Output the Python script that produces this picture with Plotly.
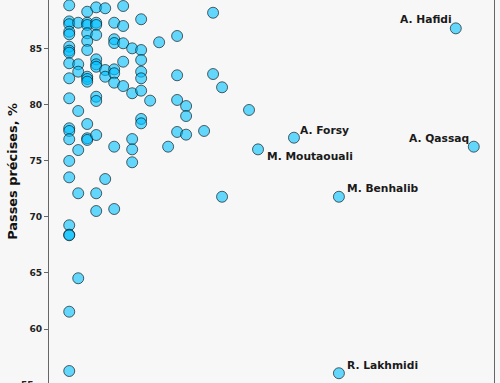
import plotly.graph_objects as go

# x: discrete metric (column index), y: pass accuracy %
x_vals = (
    [0]*21 + [1]*7 + [2]*12 + [3]*12 + [4]*4 + [5]*8 + [6]*5 + [7]*5 + [8]*8
    + [9, 10, 11] + [12]*4 + [13]*3 + [15] + [16]*2 + [17]*2 + [20]
)
y_vals = (
    [88.83, 87.40, 87.15, 86.48, 86.25, 85.15, 84.79, 84.61, 83.67, 82.33, 80.55,
     77.88, 77.64, 76.90, 74.97, 73.51, 69.24, 68.40, 68.35, 61.54, 56.26]
    + [87.28, 83.58, 82.92, 79.42, 75.94, 72.09, 64.52]
    + [88.26, 87.28, 87.08, 86.34, 85.65, 84.85, 82.47, 82.27, 82.03, 78.26, 76.99, 76.84]
    + [88.65, 87.28, 87.08, 86.19, 84.02, 83.58, 83.36, 80.69, 80.31, 77.28, 72.09, 70.51]
    + [88.57, 83.07, 82.47, 73.36]
    + [87.28, 85.81, 85.47, 83.13, 82.78, 81.94, 76.24, 70.69]
    + [88.77, 86.99, 85.45, 83.81, 81.64]
    + [85.00, 81.00, 76.92, 76.00, 74.85]
    + [87.59, 84.85, 83.96, 82.92, 82.33, 81.23, 78.71, 78.32]
    + [80.34, 85.54, 76.24]
    + [86.10, 82.60, 80.40, 77.55]
    + [79.86, 78.97, 77.31]
    + [77.64]
    + [88.17, 82.71]
    + [81.53, 71.78]
    + [79.51]
)

named_players = ["M. Moutaouali", "A. Forsy", "M. Benhalib", "R. Lakhmidi", "A. Hafidi", "A. Qassaq"]
named_x = [21, 25, 30, 30, 43, 45]
named_y = [76.00, 77.04, 71.78, 56.06, 86.78, 76.24]

y_ticks = [55, 60, 65, 70, 75, 80, 85]
y_title = "Passes précises, %"

BG = "#f7f7f7"
FONT = "DejaVu Sans"
Y_RANGE = [55.19, 89.305]

fig = go.Figure()
fig.add_trace(go.Scatter(
    x=x_vals + named_x, y=y_vals + named_y, mode="markers",
    marker=dict(size=11, color="rgba(0,191,255,0.6)",
                line=dict(color="rgba(0,0,0,0.6)", width=1)),
    hoverinfo="skip", showlegend=False, cliponaxis=False,
))

# label placement (pixel offsets from point, anchor)
label_style = {
    "M. Moutaouali": dict(xanchor="left", xshift=7, yshift=-7),
    "A. Forsy": dict(xanchor="left", xshift=4, yshift=7),
    "M. Benhalib": dict(xanchor="left", xshift=6, yshift=8.5),
    "R. Lakhmidi": dict(xanchor="left", xshift=6, yshift=7.5),
    "A. Hafidi": dict(xanchor="right", xshift=-2, yshift=8.5),
    "A. Qassaq": dict(xanchor="right", xshift=-3, yshift=8),
}
for name, xv, yv in zip(named_players, named_x, named_y):
    st = label_style[name]
    fig.add_annotation(
        x=xv, y=yv, xref="x", yref="y", text=name, showarrow=False,
        xanchor=st["xanchor"], yanchor="middle", xshift=st["xshift"], yshift=st["yshift"],
        font=dict(family=FONT, size=10.7, color="#1a1a1a", weight="bold"),
    )

# y-axis title
fig.add_annotation(
    x=(12 - 48.75) / 445.5, y=0.5522, xref="paper", yref="paper", text=y_title,
    showarrow=False, textangle=-90, xanchor="center", yanchor="middle",
    font=dict(family=FONT, size=12.9, color="#111", weight="bold"),
)

# partially visible bottom tick label (tick 55 lies just below the visible window)
fig.add_annotation(
    x=(36 - 48.75) / 445.5, y=(y_ticks[0] - Y_RANGE[0]) / (Y_RANGE[1] - Y_RANGE[0]),
    xref="paper", yref="paper", text=str(y_ticks[0]), showarrow=False,
    xanchor="right", yanchor="middle",
    font=dict(family=FONT, size=9.1, color="#222", weight="bold"),
)

fig.update_layout(
    width=500, height=383,
    margin=dict(l=48.75, r=5.75, t=0, b=0, pad=0),
    paper_bgcolor=BG, plot_bgcolor=BG,
    xaxis=dict(range=[-2.25, 47.25], showgrid=False, zeroline=False,
               showticklabels=False, ticks="", showline=False),
    yaxis=dict(range=Y_RANGE, tickvals=y_ticks, showgrid=False, zeroline=False,
               showline=True, linecolor="#666", linewidth=1, mirror=True,
               ticks="outside", ticklen=4, tickcolor="#666", tickwidth=1,
               tickfont=dict(family=FONT, size=9.1, color="#222", weight="bold"),
               automargin=False),
)

fig.write_html(
    "out.html",
    config={"displayModeBar": False, "staticPlot": True},
    post_script="document.body.style.margin='0';document.body.style.overflow='hidden';"
                "document.body.style.background='#f7f7f7';",
)
